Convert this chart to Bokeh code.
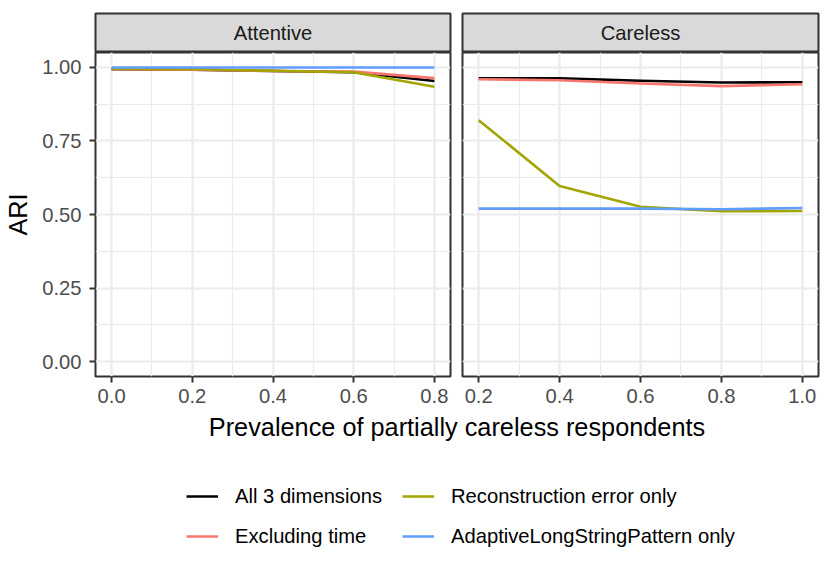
from bokeh.plotting import figure
from bokeh.layouts import column, row
from bokeh.models import Range1d, FixedTicker, Legend, LegendItem, Label, Grid
from bokeh.embed import file_html
from bokeh.resources import INLINE

FONT = "Liberation Sans"
SMALL = "20.2px"
BIG = "25.3px"

# ---- data ----
panels = ["Attentive", "Careless"]
series_names = ["All 3 dimensions", "Excluding time",
                "Reconstruction error only", "AdaptiveLongStringPattern only"]
series_colors = ["#000000", "#F8766D", "#A3A500", "#619CFF"]

x_attentive = [0.0, 0.2, 0.4, 0.6, 0.8]
att_all3 = [0.993, 0.992, 0.987, 0.983, 0.953]
att_excl = [0.993, 0.992, 0.987, 0.985, 0.963]
att_recon = [0.995, 0.993, 0.988, 0.983, 0.934]
att_alsp = [0.999, 0.999, 0.999, 0.999, 0.999]

x_careless = [0.2, 0.4, 0.6, 0.8, 1.0]
car_all3 = [0.962, 0.962, 0.954, 0.948, 0.949]
car_excl = [0.959, 0.956, 0.945, 0.936, 0.942]
car_recon = [0.820, 0.597, 0.526, 0.511, 0.512]
car_alsp = [0.520, 0.520, 0.520, 0.518, 0.522]

x_ticks_att = [0.0, 0.2, 0.4, 0.6, 0.8]
x_labels_att = ["0.0", "0.2", "0.4", "0.6", "0.8"]
x_minor_att = [0.1, 0.3, 0.5, 0.7]
x_ticks_car = [0.2, 0.4, 0.6, 0.8, 1.0]
x_labels_car = ["0.2", "0.4", "0.6", "0.8", "1.0"]
x_minor_car = [0.3, 0.5, 0.7, 0.9]
y_ticks = [0.0, 0.25, 0.5, 0.75, 1.0]
y_labels = ["0.00", "0.25", "0.50", "0.75", "1.00"]
y_minor = [0.125, 0.375, 0.625, 0.875]

x_title = "Prevalence of partially careless respondents"
y_title = "ARI"

GRID = "#EBEBEB"


def hide_grids(f):
    for g in list(f.xgrid) + list(f.ygrid):
        g.visible = False


def make_strip(text, width, bl, br):
    s = figure(width=width, height=52, x_range=Range1d(0, 1), y_range=Range1d(0, 1),
               output_backend="svg", toolbar_location=None,
               x_axis_location=None, y_axis_location=None,
               min_border_left=bl, min_border_right=br, min_border_top=13, min_border_bottom=0,
               background_fill_color="#D9D9D9", border_fill_color="white",
               outline_line_color="#333333", outline_line_width=2)
    hide_grids(s)
    s.add_layout(Label(x=0.5, y=0.5, text=text, text_align="center", text_baseline="middle",
                       text_font=FONT, text_font_size=SMALL, text_color="#1A1A1A"))
    return s


def make_panel(xr, xticks, xlabels, xminor, show_y, width, bl, br, xs, ys_list):
    p = figure(width=width, height=359, x_range=Range1d(*xr), y_range=Range1d(-0.05, 1.05),
               output_backend="svg", toolbar_location=None,
               y_axis_location="left" if show_y else None,
               min_border_left=bl, min_border_right=br, min_border_top=0, min_border_bottom=35,
               background_fill_color="white", border_fill_color="white",
               outline_line_color="#333333", outline_line_width=2)
    ax = p.xaxis[0]
    ax.ticker = FixedTicker(ticks=xticks, minor_ticks=xminor)
    ax.major_label_overrides = {t: l for t, l in zip(xticks, xlabels)}
    ax.major_label_standoff = 6
    axes = [ax]
    if show_y:
        ay = p.yaxis[0]
        ay.ticker = FixedTicker(ticks=y_ticks, minor_ticks=y_minor)
        ay.major_label_overrides = {t: l for t, l in zip(y_ticks, y_labels)}
        ay.axis_label = y_title
        ay.axis_label_text_font = FONT
        ay.axis_label_text_font_size = BIG
        ay.axis_label_text_font_style = "normal"
        ay.axis_label_text_color = "black"
        ay.axis_label_standoff = 7
        ay.major_label_standoff = 8
        axes.append(ay)
    for g in list(p.ygrid):
        g.visible = False
    ygrid = Grid(dimension=1, ticker=FixedTicker(ticks=y_ticks, minor_ticks=y_minor))
    p.add_layout(ygrid)
    for a in axes:
        a.axis_line_color = None
        a.major_tick_out = 6
        a.major_tick_in = 0
        a.minor_tick_out = 0
        a.minor_tick_in = 0
        a.major_tick_line_color = "#333333"
        a.major_tick_line_width = 2
        a.major_label_text_font = FONT
        a.major_label_text_font_size = SMALL
        a.major_label_text_color = "#4D4D4D"
    for g in [p.xgrid[0], ygrid]:
        g.grid_line_color = GRID
        g.grid_line_width = 2.2
        g.minor_grid_line_color = GRID
        g.minor_grid_line_width = 1.1
    for ys, c in zip(ys_list, series_colors):
        p.line(xs, ys, line_color=c, line_width=2.6, line_join="round")
    return p


strip_l = make_strip(panels[0], 456, 95, 6)
strip_r = make_strip(panels[1], 366, 6, 4)

p_l = make_panel((-0.04, 0.84), x_ticks_att, x_labels_att, x_minor_att, True, 456, 95, 6,
                 x_attentive, [att_all3, att_excl, att_recon, att_alsp])
p_r = make_panel((0.16, 1.04), x_ticks_car, x_labels_car, x_minor_car, False, 366, 6, 4,
                 x_careless, [car_all3, car_excl, car_recon, car_alsp])

bottom = figure(width=822, height=157, x_range=Range1d(0, 1), y_range=Range1d(0, 1),
                output_backend="svg", toolbar_location=None,
                x_axis_location=None, y_axis_location=None, min_border=0,
                outline_line_color=None, background_fill_color="white", border_fill_color="white")
hide_grids(bottom)
bottom.add_layout(Label(x=456.5, y=156, x_units="screen", y_units="screen", text=x_title,
                        text_align="center", text_baseline="top",
                        text_font=FONT, text_font_size=BIG, text_color="black"))

# legend-only renderers (their points lie outside the visible range)
dummies = [bottom.line(x=[5, 6], y=[5, 6], line_color=c, line_width=2.6) for c in series_colors]


def make_legend(idx, loc):
    return Legend(items=[LegendItem(label=series_names[i], renderers=[dummies[i]]) for i in idx],
                  location=loc, orientation="vertical", glyph_width=32, glyph_height=40,
                  label_height=40, label_standoff=17, spacing=0, padding=0, margin=0,
                  border_line_color=None, background_fill_alpha=0,
                  label_text_font=FONT, label_text_font_size=SMALL, label_text_color="black")


bottom.add_layout(make_legend([0, 1], (186, 12)))
bottom.add_layout(make_legend([2, 3], (402, 12)))

layout = column(row(strip_l, strip_r), row(p_l, p_r), bottom)

open("out.html", "w").write(file_html(layout, INLINE))
